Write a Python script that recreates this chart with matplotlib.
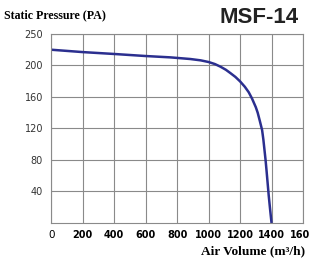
import matplotlib.pyplot as plt

# curve (air volume m3/h vs static pressure Pa)
volume = [0, 200, 400, 600, 757, 884, 950, 1000, 1040, 1075, 1110, 1138, 1170,
          1200, 1230, 1255, 1276, 1300, 1312, 1325, 1340, 1348, 1355, 1362,
          1368, 1375, 1382, 1391, 1400]
pressure = [220, 217, 214.6, 212, 210.3, 208.2, 206.5, 204.4, 201.8, 198.5, 194.5,
            190.4, 185.5, 179.8, 173, 166, 158, 147, 140, 130, 118, 106, 93, 80,
            67, 51, 35, 17, 0]

x_ticks = [0, 200, 400, 600, 800, 1000, 1200, 1400, 1600]
x_labels = ["0", "200", "400", "600", "800", "1000", "1200", "1400", ""]
last_label = "160"
y_ticks = [40, 80, 120, 160, 200, 240]
y_labels = ["40", "80", "120", "160", "200", "250"]

fig = plt.figure(figsize=(3.09, 2.58), dpi=100)
ax = fig.add_axes([0.166, 0.1357, 0.8146, 0.7326])

ax.plot(volume, pressure, color="#2b2f8f", lw=1.8, solid_capstyle="butt")

ax.set_xlim(0, 1600)
ax.set_ylim(0, 240)
ax.set_xticks(x_ticks)
ax.set_xticklabels(x_labels, fontsize=7, fontweight="bold")
ax.get_xticklabels()[0].set_fontweight("normal")
ax.get_xticklabels()[0].set_fontsize(7.5)
# last label sits against the right edge, as in the reference
ax.annotate(last_label, xy=(x_ticks[-1], 0), xycoords=("data", "axes fraction"),
            xytext=(5, -5), textcoords="offset points", ha="right", va="top",
            fontsize=7, fontweight="bold")
ax.set_yticks(y_ticks)
ax.set_yticklabels(y_labels, fontsize=7, color="#333333")
ax.tick_params(length=0, pad=6)
ax.tick_params(axis="x", pad=5)
ax.grid(True, color="#8a8a8a", lw=0.8)
for s in ax.spines.values():
    s.set_color("#8a8a8a")
    s.set_linewidth(0.8)

fig.text(0.013, 0.94, "Static Pressure (PA)", family="Liberation Serif",
         fontweight="bold", fontsize=8.6, va="center")
fig.text(0.965, 0.932, "MSF-14", family="Liberation Sans", fontweight="bold",
         fontsize=16, ha="right", va="center", color="#222222")
fig.text(0.988, 0.025, "Air Volume (m³/h)", family="Liberation Serif",
         fontweight="bold", fontsize=9.6, ha="right", va="center")

fig.savefig("out.png", dpi=100)
